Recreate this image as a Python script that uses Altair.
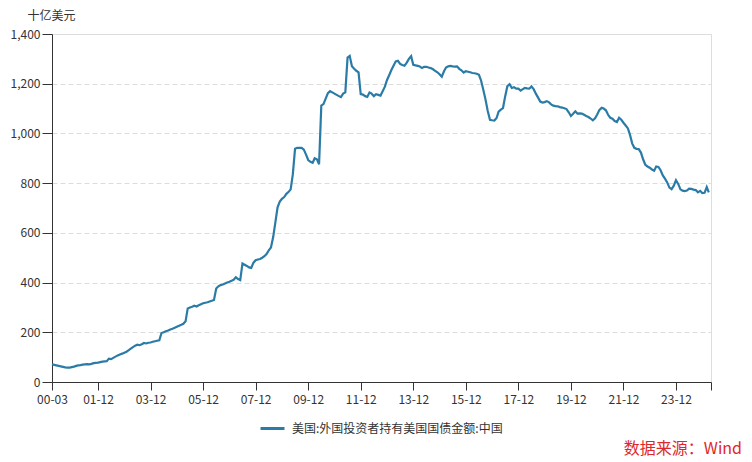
import altair as alt
import pandas as pd

# Monthly values (billion USD), China holdings of US Treasuries
y2000 = [71, 69, 67, 65, 63, 61, 59, 58, 58, 60]  # Mar-Dec
y2001 = [62, 65, 67, 68, 70, 71, 72, 71, 73, 76, 77, 78]
y2002 = [80, 82, 83, 84, 94, 92, 97, 102, 107, 111, 114, 118]
y2003 = [122, 128, 134, 140, 146, 150, 148, 152, 157, 155, 158, 159]
y2004 = [162, 164, 166, 168, 197, 200, 204, 207, 211, 214, 218, 222]
y2005 = [226, 230, 234, 244, 296, 300, 303, 307, 304, 309, 313, 317]
y2006 = [319, 321, 324, 327, 330, 376, 385, 390, 392, 396, 400, 403]
y2007 = [407, 412, 421, 414, 410, 477, 472, 467, 461, 459, 480, 490]
y2008 = [493, 495, 500, 506, 515, 530, 541, 583, 643, 703, 726, 737]
y2009 = [744, 757, 764, 775, 835, 938, 942, 942, 942, 935, 915, 893]
y2010 = [886, 882, 900, 896, 876, 1112, 1118, 1140, 1162, 1170, 1165, 1160]
y2011 = [1155, 1150, 1146, 1160, 1165, 1305, 1312, 1270, 1260, 1252, 1246, 1158]
y2012 = [1156, 1150, 1147, 1165, 1160, 1150, 1158, 1155, 1152, 1170, 1188, 1215]
y2013 = [1235, 1256, 1272, 1290, 1292, 1280, 1275, 1272, 1285, 1300, 1311, 1276]
y2014 = [1274, 1272, 1269, 1263, 1268, 1268, 1265, 1263, 1258, 1252, 1246, 1238]
y2015 = [1228, 1250, 1265, 1270, 1272, 1270, 1269, 1270, 1260, 1254, 1245, 1250]
y2016 = [1248, 1246, 1243, 1242, 1240, 1236, 1212, 1175, 1135, 1090, 1055, 1053]
y2017 = [1052, 1062, 1088, 1096, 1102, 1150, 1190, 1198, 1183, 1186, 1180, 1180]
y2018 = [1172, 1178, 1183, 1181, 1180, 1189, 1178, 1160, 1144, 1128, 1124, 1126]
y2019 = [1130, 1125, 1117, 1112, 1110, 1109, 1106, 1104, 1101, 1098, 1085, 1070]
y2020 = [1079, 1089, 1080, 1081, 1080, 1075, 1070, 1066, 1060, 1053, 1061, 1076]
y2021 = [1095, 1103, 1100, 1093, 1075, 1063, 1059, 1050, 1046, 1063, 1055, 1043]
y2022 = [1032, 1020, 995, 960, 942, 938, 937, 923, 895, 874, 867, 862]
y2023 = [855, 850, 867, 865, 852, 831, 818, 803, 782, 776, 790, 812]
y2024 = [797, 775, 770, 768, 770, 778, 777, 774, 772, 763, 769, 760]
y2025 = [761, 784, 763]  # Jan-Mar

series_name = "美国:外国投资者持有美国国债金额:中国"
unit_label = "十亿美元"
source_label = "数据来源：Wind"
tick_dates = ["2000-03", "2001-12", "2003-12", "2005-12", "2007-12", "2009-12",
              "2011-12", "2013-12", "2015-12", "2017-12", "2019-12", "2021-12",
              "2023-12", "2025-04"]
y_ticks = [0, 200, 400, 600, 800, 1000, 1200, 1400]

years = {2000: y2000, 2001: y2001, 2002: y2002, 2003: y2003, 2004: y2004,
         2005: y2005, 2006: y2006, 2007: y2007, 2008: y2008, 2009: y2009,
         2010: y2010, 2011: y2011, 2012: y2012, 2013: y2013, 2014: y2014,
         2015: y2015, 2016: y2016, 2017: y2017, 2018: y2018, 2019: y2019,
         2020: y2020, 2021: y2021, 2022: y2022, 2023: y2023, 2024: y2024,
         2025: y2025}

rows = []
for yr, vals in years.items():
    start = 3 if yr == 2000 else 1
    for i, v in enumerate(vals):
        rows.append({"date": f"{yr}-{start + i:02d}-01", "value": v, "series": series_name})
df = pd.DataFrame(rows)


def dt(s):
    y, m = s.split("-")
    return alt.DateTime(year=int(y), month=int(m), date=1, utc=True)


FONT = "Noto Sans CJK SC"
TXT = "#333333"

line = alt.Chart(df).mark_line(strokeWidth=2.2).encode(
    x=alt.X("date:T",
            scale=alt.Scale(type="utc", domain=[dt("2000-03"), dt("2025-04")]),
            axis=alt.Axis(values=[dt(s) for s in tick_dates],
                          labelExpr="utcyear(datum.value) >= 2025 ? '' : utcFormat(datum.value, '%y-%m')",
                          title=None, grid=False, domainColor="#333333", tickColor="#333333",
                          tickSize=8, labelPadding=4, labelFontSize=12, labelColor=TXT,
                          labelFont=FONT, labelFlush=False, labelOverlap=False)),
    y=alt.Y("value:Q",
            scale=alt.Scale(domain=[0, 1400], nice=False),
            axis=alt.Axis(values=y_ticks, format=",d", title=unit_label, titleAngle=0,
                          titleX=-1, titleY=-19, titleAlign="center", titleBaseline="middle",
                          titleFont=FONT, titleFontSize=12, titleFontWeight="normal", titleColor=TXT,
                          domainColor="#333333", tickColor="#333333", tickSize=10, labelPadding=2,
                          labelFontSize=12, labelColor=TXT, labelFont=FONT,
                          gridColor="#dcdcdc", gridDash=[5, 3], gridWidth=1)),
    color=alt.Color("series:N",
                    scale=alt.Scale(range=["#2b7ba7"]),
                    legend=alt.Legend(orient="none", legendX=207, legendY=381, title=None,
                                      symbolType="stroke", symbolSize=576, symbolStrokeWidth=3,
                                      labelFont=FONT, labelFontSize=12, labelColor=TXT,
                                      labelOffset=6, labelLimit=0, padding=0))
)

source = alt.Chart(pd.DataFrame({"t": [source_label]})).mark_text(
    align="right", baseline="middle", fontSize=16, font=FONT, color="#e0272a"
).encode(x=alt.value(690), y=alt.value(415), text="t:N")

chart = alt.layer(line, source).properties(
    width=659, height=348,
    padding={"left": 44, "top": 26, "right": 33, "bottom": 76},
    autosize=alt.AutoSizeParams(type="none"),
).configure_view(strokeWidth=0).configure(font=FONT)

chart.save("out.html", embed_options={"renderer": "svg", "actions": False})
